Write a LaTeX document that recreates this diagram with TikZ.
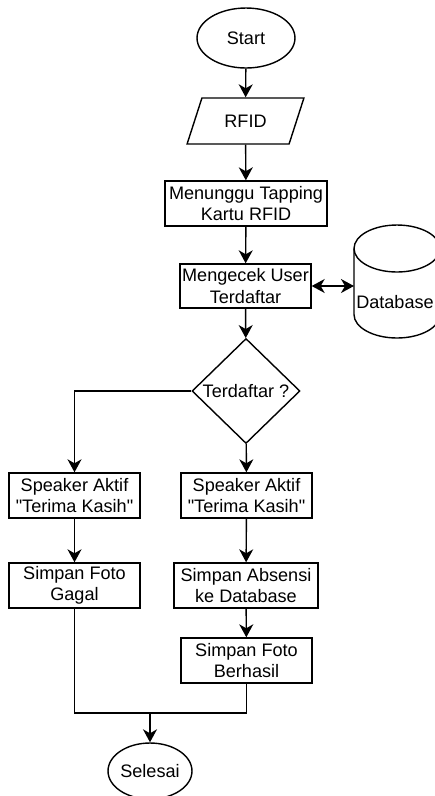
\documentclass[tikz,border=0pt]{standalone}
\usepackage{
	fontspec,			% Fonts
	tikz
}
\setmainfont{Liberation Sans}
\usetikzlibrary{shapes.geometric,arrows.meta}

\tikzset{
	box/.style={draw, rectangle, align=center, inner sep=0pt, minimum height=0.9cm},
	term/.style={draw, ellipse, inner sep=0pt}
}

\begin{document}
\begin{tikzpicture}[x=0.02cm, y=-0.02cm, line width=0.8pt, >={Stealth[length=2.6mm,width=2.8mm,inset=0.8mm]}, font=\fontsize{10.3}{12}\selectfont]
		\useasboundingbox (0,0) rectangle (434,796);

		\node[term, minimum width=1.96cm, minimum height=1.2cm] (start) at (246,38) {Start};
		\node[draw, trapezium, trapezium left angle=60, trapezium right angle=120, trapezium stretches=true, minimum width=2.34cm, minimum height=0.92cm, inner sep=0pt] (rfid) at (245.5,121) {RFID};
		\node[box, minimum width=3.24cm] (tunggu) at (246,203.5) {Menunggu Tapping\\Kartu RFID};
		\node[box, minimum width=2.62cm, minimum height=0.88cm] (cek) at (245.5,286) {Mengecek User\\Terdaftar};
		\node[draw, diamond, inner sep=0pt, minimum width=2.16cm, minimum height=2.1cm] (daftar) at (246,391) {Terdaftar ?};

		\node[box, minimum width=2.62cm] (spkkiri) at (74.5,495.5) {Speaker Aktif\\\textquotedbl Terima Kasih\textquotedbl};
		\node[box, minimum width=2.62cm] (spkkanan) at (246.5,495.5) {Speaker Aktif\\\textquotedbl Terima Kasih\textquotedbl};
		\node[box, minimum width=2.62cm] (gagal) at (74.5,585.5) {Simpan Foto\\Gagal};
		\node[box, minimum width=2.88cm] (absen) at (246,585.5) {Simpan Absensi\\ke Database};
		\node[box, minimum width=2.62cm] (berhasil) at (246.5,660.5) {Simpan Foto\\Berhasil};
		\node[term, minimum width=1.68cm, minimum height=1.12cm] (selesai) at (150,771) {Selesai};

		% Database cylinder.
		\draw (354,248.5) -- (354,314.5) arc[start angle=180, end angle=360, x radius=0.86cm, y radius=0.47cm] -- (440,248.5);
		\draw (397,248.5) ellipse [x radius=0.86cm, y radius=0.47cm];
		\node (db) at (395,302) {Database};
		\coordinate (dbkiri) at (354,286);

		\coordinate (gabung) at (150,713);

		\draw[->] (start) -- (rfid);
		\draw[->] (rfid) -- (tunggu);
		\draw[->] (tunggu) -- (cek);
		\draw[<->] (cek.east) -- (dbkiri);
		\draw[->] (cek) -- (daftar);
		\draw[->] (daftar.west) -| (spkkiri.north);
		\draw[->] (daftar) -- (spkkanan);
		\draw[->] (spkkiri) -- (gagal);
		\draw[->] (spkkanan) -- (absen);
		\draw[->] (absen) -- (berhasil);
		\draw (gagal.south) |- (gabung) -| (berhasil.south);
		\draw[->] (gabung) -- (selesai);
	\end{tikzpicture}
\end{document}
